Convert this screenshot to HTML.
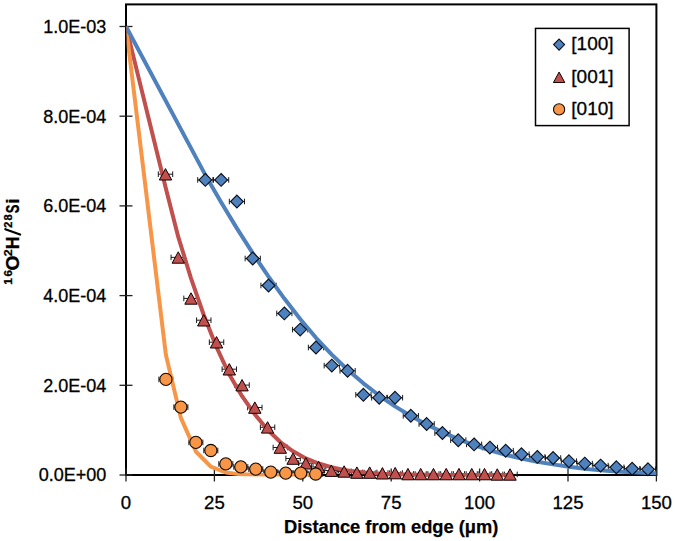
<!DOCTYPE html><html><head><meta charset="utf-8"><style>html,body{margin:0;padding:0;background:#fff;}svg{display:block}</style></head><body>
<svg width="675" height="541" viewBox="0 0 675 541">
<rect width="675" height="541" fill="#fff"/>
<rect x="126.0" y="4.4" width="530.4" height="470.6" fill="none" stroke="#000" stroke-width="2"/>
<line x1="119.5" y1="475.0" x2="132.5" y2="475.0" stroke="#222" stroke-width="1.3"/>
<line x1="119.5" y1="385.3" x2="132.5" y2="385.3" stroke="#222" stroke-width="1.3"/>
<line x1="119.5" y1="295.6" x2="132.5" y2="295.6" stroke="#222" stroke-width="1.3"/>
<line x1="119.5" y1="205.9" x2="132.5" y2="205.9" stroke="#222" stroke-width="1.3"/>
<line x1="119.5" y1="116.2" x2="132.5" y2="116.2" stroke="#222" stroke-width="1.3"/>
<line x1="119.5" y1="26.5" x2="132.5" y2="26.5" stroke="#222" stroke-width="1.3"/>
<line x1="126.0" y1="468.5" x2="126.0" y2="481.5" stroke="#222" stroke-width="1.3"/>
<line x1="214.4" y1="468.5" x2="214.4" y2="481.5" stroke="#222" stroke-width="1.3"/>
<line x1="302.8" y1="468.5" x2="302.8" y2="481.5" stroke="#222" stroke-width="1.3"/>
<line x1="391.2" y1="468.5" x2="391.2" y2="481.5" stroke="#222" stroke-width="1.3"/>
<line x1="479.6" y1="468.5" x2="479.6" y2="481.5" stroke="#222" stroke-width="1.3"/>
<line x1="568.0" y1="468.5" x2="568.0" y2="481.5" stroke="#222" stroke-width="1.3"/>
<line x1="656.4" y1="468.5" x2="656.4" y2="481.5" stroke="#222" stroke-width="1.3"/>
<text x="106.3" y="481.3" font-family='"Liberation Sans", sans-serif' font-size="18" text-anchor="end" fill="#000" stroke="#000" stroke-width="0.3">0.0E+00</text>
<text x="106.3" y="391.6" font-family='"Liberation Sans", sans-serif' font-size="18" text-anchor="end" fill="#000" stroke="#000" stroke-width="0.3">2.0E-04</text>
<text x="106.3" y="301.9" font-family='"Liberation Sans", sans-serif' font-size="18" text-anchor="end" fill="#000" stroke="#000" stroke-width="0.3">4.0E-04</text>
<text x="106.3" y="212.2" font-family='"Liberation Sans", sans-serif' font-size="18" text-anchor="end" fill="#000" stroke="#000" stroke-width="0.3">6.0E-04</text>
<text x="106.3" y="122.5" font-family='"Liberation Sans", sans-serif' font-size="18" text-anchor="end" fill="#000" stroke="#000" stroke-width="0.3">8.0E-04</text>
<text x="106.3" y="32.8" font-family='"Liberation Sans", sans-serif' font-size="18" text-anchor="end" fill="#000" stroke="#000" stroke-width="0.3">1.0E-03</text>
<text x="126.0" y="508.8" font-family='"Liberation Sans", sans-serif' font-size="18.6" text-anchor="middle" fill="#000" stroke="#000" stroke-width="0.3">0</text>
<text x="214.4" y="508.8" font-family='"Liberation Sans", sans-serif' font-size="18.6" text-anchor="middle" fill="#000" stroke="#000" stroke-width="0.3">25</text>
<text x="302.8" y="508.8" font-family='"Liberation Sans", sans-serif' font-size="18.6" text-anchor="middle" fill="#000" stroke="#000" stroke-width="0.3">50</text>
<text x="391.2" y="508.8" font-family='"Liberation Sans", sans-serif' font-size="18.6" text-anchor="middle" fill="#000" stroke="#000" stroke-width="0.3">75</text>
<text x="479.6" y="508.8" font-family='"Liberation Sans", sans-serif' font-size="18.6" text-anchor="middle" fill="#000" stroke="#000" stroke-width="0.3">100</text>
<text x="568.0" y="508.8" font-family='"Liberation Sans", sans-serif' font-size="18.6" text-anchor="middle" fill="#000" stroke="#000" stroke-width="0.3">125</text>
<text x="656.4" y="508.8" font-family='"Liberation Sans", sans-serif' font-size="18.6" text-anchor="middle" fill="#000" stroke="#000" stroke-width="0.3">150</text>
<text x="391.2" y="533.4" font-family='"Liberation Sans", sans-serif' font-size="18.3" font-weight="bold" text-anchor="middle" fill="#000" stroke="#000" stroke-width="0.25">Distance from edge (&#956;m)</text>
<text transform="translate(19.00,284.30) rotate(-90) translate(-0.44,-7.00) scale(1.019,1.000)" font-family='"Liberation Sans", sans-serif' font-size="11.6" font-weight="bold" fill="#000" stroke="#000" stroke-width="0.3">1</text>
<text transform="translate(19.00,284.30) rotate(-90) translate(7.68,-7.00) scale(0.999,1.000)" font-family='"Liberation Sans", sans-serif' font-size="11.6" font-weight="bold" fill="#000" stroke="#000" stroke-width="0.3">6</text>
<text transform="translate(19.00,284.30) rotate(-90) translate(13.81,0.00) scale(1.096,1.000)" font-family='"Liberation Sans", sans-serif' font-size="17.6" font-weight="bold" fill="#000" stroke="#000" stroke-width="0.3">O</text>
<text transform="translate(19.00,284.30) rotate(-90) translate(28.07,-7.00) scale(1.074,1.000)" font-family='"Liberation Sans", sans-serif' font-size="11.6" font-weight="bold" fill="#000" stroke="#000" stroke-width="0.3">2</text>
<text transform="translate(19.00,284.30) rotate(-90) translate(35.12,0.00) scale(1.005,1.000)" font-family='"Liberation Sans", sans-serif' font-size="17.6" font-weight="bold" fill="#000" stroke="#000" stroke-width="0.3">H</text>
<line x1="5.33" y1="229.22" x2="20.07" y2="234.59" stroke="#000" stroke-width="2.2" stroke-linecap="round"/>
<text transform="translate(19.00,284.30) rotate(-90) translate(56.30,-7.00) scale(0.985,1.000)" font-family='"Liberation Sans", sans-serif' font-size="11.6" font-weight="bold" fill="#000" stroke="#000" stroke-width="0.3">2</text>
<text transform="translate(19.00,284.30) rotate(-90) translate(63.75,-7.00) scale(0.960,1.000)" font-family='"Liberation Sans", sans-serif' font-size="11.6" font-weight="bold" fill="#000" stroke="#000" stroke-width="0.3">8</text>
<text transform="translate(19.00,284.30) rotate(-90) translate(71.12,0.00) scale(0.740,1.000)" font-family='"Liberation Sans", sans-serif' font-size="17.6" font-weight="bold" fill="#000" stroke="#000" stroke-width="0.3">S</text>
<text transform="translate(19.00,284.30) rotate(-90) translate(80.86,0.00) scale(1.000,1.000)" font-family='"Liberation Sans", sans-serif' font-size="17.6" font-weight="bold" fill="#000" stroke="#000" stroke-width="0.3">i</text>
<path d="M197.70,179.90 H212.90 M197.70,177.10 V182.70 M212.90,177.10 V182.70" stroke="#1a1a1a" stroke-width="1" fill="none"/>
<path d="M213.51,179.90 H228.71 M213.51,177.10 V182.70 M228.71,177.10 V182.70" stroke="#1a1a1a" stroke-width="1" fill="none"/>
<path d="M229.32,201.50 H244.52 M229.32,198.70 V204.30 M244.52,198.70 V204.30" stroke="#1a1a1a" stroke-width="1" fill="none"/>
<path d="M245.13,258.50 H260.33 M245.13,255.70 V261.30 M260.33,255.70 V261.30" stroke="#1a1a1a" stroke-width="1" fill="none"/>
<path d="M260.94,285.50 H276.14 M260.94,282.70 V288.30 M276.14,282.70 V288.30" stroke="#1a1a1a" stroke-width="1" fill="none"/>
<path d="M276.75,313.40 H291.95 M276.75,310.60 V316.20 M291.95,310.60 V316.20" stroke="#1a1a1a" stroke-width="1" fill="none"/>
<path d="M292.56,329.60 H307.76 M292.56,326.80 V332.40 M307.76,326.80 V332.40" stroke="#1a1a1a" stroke-width="1" fill="none"/>
<path d="M308.37,347.50 H323.57 M308.37,344.70 V350.30 M323.57,344.70 V350.30" stroke="#1a1a1a" stroke-width="1" fill="none"/>
<path d="M324.18,365.60 H339.38 M324.18,362.80 V368.40 M339.38,362.80 V368.40" stroke="#1a1a1a" stroke-width="1" fill="none"/>
<path d="M339.99,370.80 H355.19 M339.99,368.00 V373.60 M355.19,368.00 V373.60" stroke="#1a1a1a" stroke-width="1" fill="none"/>
<path d="M355.80,394.80 H371.00 M355.80,392.00 V397.60 M371.00,392.00 V397.60" stroke="#1a1a1a" stroke-width="1" fill="none"/>
<path d="M371.61,397.70 H386.81 M371.61,394.90 V400.50 M386.81,394.90 V400.50" stroke="#1a1a1a" stroke-width="1" fill="none"/>
<path d="M387.42,397.70 H402.62 M387.42,394.90 V400.50 M402.62,394.90 V400.50" stroke="#1a1a1a" stroke-width="1" fill="none"/>
<path d="M403.23,415.80 H418.43 M403.23,413.00 V418.60 M418.43,413.00 V418.60" stroke="#1a1a1a" stroke-width="1" fill="none"/>
<path d="M419.04,424.00 H434.24 M419.04,421.20 V426.80 M434.24,421.20 V426.80" stroke="#1a1a1a" stroke-width="1" fill="none"/>
<path d="M434.85,433.00 H450.05 M434.85,430.20 V435.80 M450.05,430.20 V435.80" stroke="#1a1a1a" stroke-width="1" fill="none"/>
<path d="M450.66,440.20 H465.86 M450.66,437.40 V443.00 M465.86,437.40 V443.00" stroke="#1a1a1a" stroke-width="1" fill="none"/>
<path d="M466.47,444.40 H481.67 M466.47,441.60 V447.20 M481.67,441.60 V447.20" stroke="#1a1a1a" stroke-width="1" fill="none"/>
<path d="M482.28,447.60 H497.48 M482.28,444.80 V450.40 M497.48,444.80 V450.40" stroke="#1a1a1a" stroke-width="1" fill="none"/>
<path d="M498.09,450.70 H513.29 M498.09,447.90 V453.50 M513.29,447.90 V453.50" stroke="#1a1a1a" stroke-width="1" fill="none"/>
<path d="M513.90,454.20 H529.10 M513.90,451.40 V457.00 M529.10,451.40 V457.00" stroke="#1a1a1a" stroke-width="1" fill="none"/>
<path d="M529.71,456.90 H544.91 M529.71,454.10 V459.70 M544.91,454.10 V459.70" stroke="#1a1a1a" stroke-width="1" fill="none"/>
<path d="M545.52,458.00 H560.72 M545.52,455.20 V460.80 M560.72,455.20 V460.80" stroke="#1a1a1a" stroke-width="1" fill="none"/>
<path d="M561.33,461.20 H576.53 M561.33,458.40 V464.00 M576.53,458.40 V464.00" stroke="#1a1a1a" stroke-width="1" fill="none"/>
<path d="M577.14,463.60 H592.34 M577.14,460.80 V466.40 M592.34,460.80 V466.40" stroke="#1a1a1a" stroke-width="1" fill="none"/>
<path d="M592.95,465.60 H608.15 M592.95,462.80 V468.40 M608.15,462.80 V468.40" stroke="#1a1a1a" stroke-width="1" fill="none"/>
<path d="M608.76,467.30 H623.96 M608.76,464.50 V470.10 M623.96,464.50 V470.10" stroke="#1a1a1a" stroke-width="1" fill="none"/>
<path d="M624.57,468.80 H639.77 M624.57,466.00 V471.60 M639.77,466.00 V471.60" stroke="#1a1a1a" stroke-width="1" fill="none"/>
<path d="M640.38,469.30 H655.58 M640.38,466.50 V472.10 M655.58,466.50 V472.10" stroke="#1a1a1a" stroke-width="1" fill="none"/>
<path d="M158.30,174.20 H172.70 M158.30,171.40 V177.00 M172.70,171.40 V177.00" stroke="#1a1a1a" stroke-width="1" fill="none"/>
<path d="M171.06,257.40 H185.46 M171.06,254.60 V260.20 M185.46,254.60 V260.20" stroke="#1a1a1a" stroke-width="1" fill="none"/>
<path d="M183.82,298.40 H198.22 M183.82,295.60 V301.20 M198.22,295.60 V301.20" stroke="#1a1a1a" stroke-width="1" fill="none"/>
<path d="M196.58,320.20 H210.98 M196.58,317.40 V323.00 M210.98,317.40 V323.00" stroke="#1a1a1a" stroke-width="1" fill="none"/>
<path d="M209.34,342.20 H223.74 M209.34,339.40 V345.00 M223.74,339.40 V345.00" stroke="#1a1a1a" stroke-width="1" fill="none"/>
<path d="M222.10,369.20 H236.50 M222.10,366.40 V372.00 M236.50,366.40 V372.00" stroke="#1a1a1a" stroke-width="1" fill="none"/>
<path d="M234.86,385.10 H249.26 M234.86,382.30 V387.90 M249.26,382.30 V387.90" stroke="#1a1a1a" stroke-width="1" fill="none"/>
<path d="M247.62,407.50 H262.02 M247.62,404.70 V410.30 M262.02,404.70 V410.30" stroke="#1a1a1a" stroke-width="1" fill="none"/>
<path d="M260.38,427.30 H274.78 M260.38,424.50 V430.10 M274.78,424.50 V430.10" stroke="#1a1a1a" stroke-width="1" fill="none"/>
<path d="M273.14,447.50 H287.54 M273.14,444.70 V450.30 M287.54,444.70 V450.30" stroke="#1a1a1a" stroke-width="1" fill="none"/>
<path d="M285.90,458.50 H300.30 M285.90,455.70 V461.30 M300.30,455.70 V461.30" stroke="#1a1a1a" stroke-width="1" fill="none"/>
<path d="M298.66,463.20 H313.06 M298.66,460.40 V466.00 M313.06,460.40 V466.00" stroke="#1a1a1a" stroke-width="1" fill="none"/>
<path d="M311.42,466.90 H325.82 M311.42,464.10 V469.70 M325.82,464.10 V469.70" stroke="#1a1a1a" stroke-width="1" fill="none"/>
<path d="M324.18,470.60 H338.58 M324.18,467.80 V473.40 M338.58,467.80 V473.40" stroke="#1a1a1a" stroke-width="1" fill="none"/>
<path d="M336.94,471.40 H351.34 M336.94,468.60 V474.20 M351.34,468.60 V474.20" stroke="#1a1a1a" stroke-width="1" fill="none"/>
<path d="M349.70,472.50 H364.10 M349.70,469.70 V475.30 M364.10,469.70 V475.30" stroke="#1a1a1a" stroke-width="1" fill="none"/>
<path d="M362.46,472.50 H376.86 M362.46,469.70 V475.30 M376.86,469.70 V475.30" stroke="#1a1a1a" stroke-width="1" fill="none"/>
<path d="M375.22,473.20 H389.62 M375.22,470.40 V476.00 M389.62,470.40 V476.00" stroke="#1a1a1a" stroke-width="1" fill="none"/>
<path d="M387.98,473.00 H402.38 M387.98,470.20 V475.80 M402.38,470.20 V475.80" stroke="#1a1a1a" stroke-width="1" fill="none"/>
<path d="M400.74,474.00 H415.14 M400.74,471.20 V476.80 M415.14,471.20 V476.80" stroke="#1a1a1a" stroke-width="1" fill="none"/>
<path d="M413.50,474.00 H427.90 M413.50,471.20 V476.80 M427.90,471.20 V476.80" stroke="#1a1a1a" stroke-width="1" fill="none"/>
<path d="M426.26,474.00 H440.66 M426.26,471.20 V476.80 M440.66,471.20 V476.80" stroke="#1a1a1a" stroke-width="1" fill="none"/>
<path d="M439.02,474.00 H453.42 M439.02,471.20 V476.80 M453.42,471.20 V476.80" stroke="#1a1a1a" stroke-width="1" fill="none"/>
<path d="M451.78,474.00 H466.18 M451.78,471.20 V476.80 M466.18,471.20 V476.80" stroke="#1a1a1a" stroke-width="1" fill="none"/>
<path d="M464.54,474.00 H478.94 M464.54,471.20 V476.80 M478.94,471.20 V476.80" stroke="#1a1a1a" stroke-width="1" fill="none"/>
<path d="M477.30,474.00 H491.70 M477.30,471.20 V476.80 M491.70,471.20 V476.80" stroke="#1a1a1a" stroke-width="1" fill="none"/>
<path d="M490.06,474.40 H504.46 M490.06,471.60 V477.20 M504.46,471.60 V477.20" stroke="#1a1a1a" stroke-width="1" fill="none"/>
<path d="M502.82,474.40 H517.22 M502.82,471.60 V477.20 M517.22,471.60 V477.20" stroke="#1a1a1a" stroke-width="1" fill="none"/>
<path d="M158.90,379.40 H172.90 M158.90,376.60 V382.20 M172.90,376.60 V382.20" stroke="#1a1a1a" stroke-width="1" fill="none"/>
<path d="M173.88,407.10 H187.88 M173.88,404.30 V409.90 M187.88,404.30 V409.90" stroke="#1a1a1a" stroke-width="1" fill="none"/>
<path d="M188.86,442.40 H202.86 M188.86,439.60 V445.20 M202.86,439.60 V445.20" stroke="#1a1a1a" stroke-width="1" fill="none"/>
<path d="M203.84,450.50 H217.84 M203.84,447.70 V453.30 M217.84,447.70 V453.30" stroke="#1a1a1a" stroke-width="1" fill="none"/>
<path d="M218.82,463.90 H232.82 M218.82,461.10 V466.70 M232.82,461.10 V466.70" stroke="#1a1a1a" stroke-width="1" fill="none"/>
<path d="M233.80,466.90 H247.80 M233.80,464.10 V469.70 M247.80,464.10 V469.70" stroke="#1a1a1a" stroke-width="1" fill="none"/>
<path d="M248.78,469.10 H262.78 M248.78,466.30 V471.90 M262.78,466.30 V471.90" stroke="#1a1a1a" stroke-width="1" fill="none"/>
<path d="M263.76,472.10 H277.76 M263.76,469.30 V474.90 M277.76,469.30 V474.90" stroke="#1a1a1a" stroke-width="1" fill="none"/>
<path d="M278.74,473.10 H292.74 M278.74,470.30 V475.90 M292.74,470.30 V475.90" stroke="#1a1a1a" stroke-width="1" fill="none"/>
<path d="M293.72,473.10 H307.72 M293.72,470.30 V475.90 M307.72,470.30 V475.90" stroke="#1a1a1a" stroke-width="1" fill="none"/>
<path d="M308.70,474.00 H322.70 M308.70,471.20 V476.80 M322.70,471.20 V476.80" stroke="#1a1a1a" stroke-width="1" fill="none"/>
<defs><clipPath id="pa"><rect x="126.6" y="4" width="530" height="472.6"/></clipPath></defs><g clip-path="url(#pa)">
<path d="M126.00,26.50 L165.50,186.98 L178.26,236.91 L191.02,278.30 L203.78,314.97 L216.54,347.18 L229.30,374.54 L242.06,396.18 L254.82,414.30 L267.58,429.82 L280.34,442.00 L293.10,451.35 L305.86,458.38 L318.62,463.54 L331.38,467.25 L344.14,469.87 L356.90,471.67 L369.66,472.88 L382.42,473.68 L395.18,474.19 L407.94,474.51 L420.70,474.72 L433.46,474.84 L446.22,474.91 L458.98,474.95 L471.74,474.97 L484.50,474.99 L497.26,474.99 L510.02,475.00" fill="none" stroke="#C0504D" stroke-width="4.0" stroke-linejoin="round" stroke-linecap="butt"/>
<path d="M126.00,26.50 L165.90,354.90 L180.88,417.84 L195.86,451.52 L210.84,466.72 L225.82,472.50 L240.80,474.36 L255.78,474.86 L270.76,474.97 L285.74,475.00 L300.72,475.00 L315.70,475.00" fill="none" stroke="#F79646" stroke-width="4.0" stroke-linejoin="round" stroke-linecap="butt"/>
<path d="M126.00,26.50 L205.30,174.93 L221.11,202.23 L236.92,228.36 L252.73,253.19 L268.54,276.63 L284.35,298.57 L300.16,318.98 L315.97,337.82 L331.78,354.62 L347.59,369.69 L363.40,383.30 L379.21,395.51 L395.02,406.40 L410.83,416.06 L426.64,424.58 L442.45,432.06 L458.26,439.05 L474.07,445.13 L489.88,450.35 L505.69,454.80 L521.50,458.55 L537.31,461.70 L553.12,464.38 L568.93,466.84 L584.74,468.82 L600.55,470.37 L616.36,471.47 L632.17,472.31 L647.98,472.96 L656.40,473.25" fill="none" stroke="#4F81BD" stroke-width="4.0" stroke-linejoin="round" stroke-linecap="butt"/>
</g>
<path d="M205.30,173.50 L211.70,179.90 L205.30,186.30 L198.90,179.90 Z" fill="#4F81BD" stroke="#0a0f1a" stroke-width="1.1"/>
<path d="M221.11,173.50 L227.51,179.90 L221.11,186.30 L214.71,179.90 Z" fill="#4F81BD" stroke="#0a0f1a" stroke-width="1.1"/>
<path d="M236.92,195.10 L243.32,201.50 L236.92,207.90 L230.52,201.50 Z" fill="#4F81BD" stroke="#0a0f1a" stroke-width="1.1"/>
<path d="M252.73,252.10 L259.13,258.50 L252.73,264.90 L246.33,258.50 Z" fill="#4F81BD" stroke="#0a0f1a" stroke-width="1.1"/>
<path d="M268.54,279.10 L274.94,285.50 L268.54,291.90 L262.14,285.50 Z" fill="#4F81BD" stroke="#0a0f1a" stroke-width="1.1"/>
<path d="M284.35,307.00 L290.75,313.40 L284.35,319.80 L277.95,313.40 Z" fill="#4F81BD" stroke="#0a0f1a" stroke-width="1.1"/>
<path d="M300.16,323.20 L306.56,329.60 L300.16,336.00 L293.76,329.60 Z" fill="#4F81BD" stroke="#0a0f1a" stroke-width="1.1"/>
<path d="M315.97,341.10 L322.37,347.50 L315.97,353.90 L309.57,347.50 Z" fill="#4F81BD" stroke="#0a0f1a" stroke-width="1.1"/>
<path d="M331.78,359.20 L338.18,365.60 L331.78,372.00 L325.38,365.60 Z" fill="#4F81BD" stroke="#0a0f1a" stroke-width="1.1"/>
<path d="M347.59,364.40 L353.99,370.80 L347.59,377.20 L341.19,370.80 Z" fill="#4F81BD" stroke="#0a0f1a" stroke-width="1.1"/>
<path d="M363.40,388.40 L369.80,394.80 L363.40,401.20 L357.00,394.80 Z" fill="#4F81BD" stroke="#0a0f1a" stroke-width="1.1"/>
<path d="M379.21,391.30 L385.61,397.70 L379.21,404.10 L372.81,397.70 Z" fill="#4F81BD" stroke="#0a0f1a" stroke-width="1.1"/>
<path d="M395.02,391.30 L401.42,397.70 L395.02,404.10 L388.62,397.70 Z" fill="#4F81BD" stroke="#0a0f1a" stroke-width="1.1"/>
<path d="M410.83,409.40 L417.23,415.80 L410.83,422.20 L404.43,415.80 Z" fill="#4F81BD" stroke="#0a0f1a" stroke-width="1.1"/>
<path d="M426.64,417.60 L433.04,424.00 L426.64,430.40 L420.24,424.00 Z" fill="#4F81BD" stroke="#0a0f1a" stroke-width="1.1"/>
<path d="M442.45,426.60 L448.85,433.00 L442.45,439.40 L436.05,433.00 Z" fill="#4F81BD" stroke="#0a0f1a" stroke-width="1.1"/>
<path d="M458.26,433.80 L464.66,440.20 L458.26,446.60 L451.86,440.20 Z" fill="#4F81BD" stroke="#0a0f1a" stroke-width="1.1"/>
<path d="M474.07,438.00 L480.47,444.40 L474.07,450.80 L467.67,444.40 Z" fill="#4F81BD" stroke="#0a0f1a" stroke-width="1.1"/>
<path d="M489.88,441.20 L496.28,447.60 L489.88,454.00 L483.48,447.60 Z" fill="#4F81BD" stroke="#0a0f1a" stroke-width="1.1"/>
<path d="M505.69,444.30 L512.09,450.70 L505.69,457.10 L499.29,450.70 Z" fill="#4F81BD" stroke="#0a0f1a" stroke-width="1.1"/>
<path d="M521.50,447.80 L527.90,454.20 L521.50,460.60 L515.10,454.20 Z" fill="#4F81BD" stroke="#0a0f1a" stroke-width="1.1"/>
<path d="M537.31,450.50 L543.71,456.90 L537.31,463.30 L530.91,456.90 Z" fill="#4F81BD" stroke="#0a0f1a" stroke-width="1.1"/>
<path d="M553.12,451.60 L559.52,458.00 L553.12,464.40 L546.72,458.00 Z" fill="#4F81BD" stroke="#0a0f1a" stroke-width="1.1"/>
<path d="M568.93,454.80 L575.33,461.20 L568.93,467.60 L562.53,461.20 Z" fill="#4F81BD" stroke="#0a0f1a" stroke-width="1.1"/>
<path d="M584.74,457.20 L591.14,463.60 L584.74,470.00 L578.34,463.60 Z" fill="#4F81BD" stroke="#0a0f1a" stroke-width="1.1"/>
<path d="M600.55,459.20 L606.95,465.60 L600.55,472.00 L594.15,465.60 Z" fill="#4F81BD" stroke="#0a0f1a" stroke-width="1.1"/>
<path d="M616.36,460.90 L622.76,467.30 L616.36,473.70 L609.96,467.30 Z" fill="#4F81BD" stroke="#0a0f1a" stroke-width="1.1"/>
<path d="M632.17,462.40 L638.57,468.80 L632.17,475.20 L625.77,468.80 Z" fill="#4F81BD" stroke="#0a0f1a" stroke-width="1.1"/>
<path d="M647.98,462.90 L654.38,469.30 L647.98,475.70 L641.58,469.30 Z" fill="#4F81BD" stroke="#0a0f1a" stroke-width="1.1"/>
<path d="M165.50,168.60 L171.70,180.00 L159.30,180.00 Z" fill="#C0504D" stroke="#100" stroke-width="1.0" stroke-linejoin="miter"/>
<path d="M178.26,251.80 L184.46,263.20 L172.06,263.20 Z" fill="#C0504D" stroke="#100" stroke-width="1.0" stroke-linejoin="miter"/>
<path d="M191.02,292.80 L197.22,304.20 L184.82,304.20 Z" fill="#C0504D" stroke="#100" stroke-width="1.0" stroke-linejoin="miter"/>
<path d="M203.78,314.60 L209.98,326.00 L197.58,326.00 Z" fill="#C0504D" stroke="#100" stroke-width="1.0" stroke-linejoin="miter"/>
<path d="M216.54,336.60 L222.74,348.00 L210.34,348.00 Z" fill="#C0504D" stroke="#100" stroke-width="1.0" stroke-linejoin="miter"/>
<path d="M229.30,363.60 L235.50,375.00 L223.10,375.00 Z" fill="#C0504D" stroke="#100" stroke-width="1.0" stroke-linejoin="miter"/>
<path d="M242.06,379.50 L248.26,390.90 L235.86,390.90 Z" fill="#C0504D" stroke="#100" stroke-width="1.0" stroke-linejoin="miter"/>
<path d="M254.82,401.90 L261.02,413.30 L248.62,413.30 Z" fill="#C0504D" stroke="#100" stroke-width="1.0" stroke-linejoin="miter"/>
<path d="M267.58,421.70 L273.78,433.10 L261.38,433.10 Z" fill="#C0504D" stroke="#100" stroke-width="1.0" stroke-linejoin="miter"/>
<path d="M280.34,441.90 L286.54,453.30 L274.14,453.30 Z" fill="#C0504D" stroke="#100" stroke-width="1.0" stroke-linejoin="miter"/>
<path d="M293.10,452.90 L299.30,464.30 L286.90,464.30 Z" fill="#C0504D" stroke="#100" stroke-width="1.0" stroke-linejoin="miter"/>
<path d="M305.86,457.60 L312.06,469.00 L299.66,469.00 Z" fill="#C0504D" stroke="#100" stroke-width="1.0" stroke-linejoin="miter"/>
<path d="M318.62,461.30 L324.82,472.70 L312.42,472.70 Z" fill="#C0504D" stroke="#100" stroke-width="1.0" stroke-linejoin="miter"/>
<path d="M331.38,465.00 L337.58,476.40 L325.18,476.40 Z" fill="#C0504D" stroke="#100" stroke-width="1.0" stroke-linejoin="miter"/>
<path d="M344.14,465.80 L350.34,477.20 L337.94,477.20 Z" fill="#C0504D" stroke="#100" stroke-width="1.0" stroke-linejoin="miter"/>
<path d="M356.90,466.90 L363.10,478.30 L350.70,478.30 Z" fill="#C0504D" stroke="#100" stroke-width="1.0" stroke-linejoin="miter"/>
<path d="M369.66,466.90 L375.86,478.30 L363.46,478.30 Z" fill="#C0504D" stroke="#100" stroke-width="1.0" stroke-linejoin="miter"/>
<path d="M382.42,467.60 L388.62,479.00 L376.22,479.00 Z" fill="#C0504D" stroke="#100" stroke-width="1.0" stroke-linejoin="miter"/>
<path d="M395.18,467.40 L401.38,478.80 L388.98,478.80 Z" fill="#C0504D" stroke="#100" stroke-width="1.0" stroke-linejoin="miter"/>
<path d="M407.94,468.40 L414.14,479.80 L401.74,479.80 Z" fill="#C0504D" stroke="#100" stroke-width="1.0" stroke-linejoin="miter"/>
<path d="M420.70,468.40 L426.90,479.80 L414.50,479.80 Z" fill="#C0504D" stroke="#100" stroke-width="1.0" stroke-linejoin="miter"/>
<path d="M433.46,468.40 L439.66,479.80 L427.26,479.80 Z" fill="#C0504D" stroke="#100" stroke-width="1.0" stroke-linejoin="miter"/>
<path d="M446.22,468.40 L452.42,479.80 L440.02,479.80 Z" fill="#C0504D" stroke="#100" stroke-width="1.0" stroke-linejoin="miter"/>
<path d="M458.98,468.40 L465.18,479.80 L452.78,479.80 Z" fill="#C0504D" stroke="#100" stroke-width="1.0" stroke-linejoin="miter"/>
<path d="M471.74,468.40 L477.94,479.80 L465.54,479.80 Z" fill="#C0504D" stroke="#100" stroke-width="1.0" stroke-linejoin="miter"/>
<path d="M484.50,468.40 L490.70,479.80 L478.30,479.80 Z" fill="#C0504D" stroke="#100" stroke-width="1.0" stroke-linejoin="miter"/>
<path d="M497.26,468.80 L503.46,480.20 L491.06,480.20 Z" fill="#C0504D" stroke="#100" stroke-width="1.0" stroke-linejoin="miter"/>
<path d="M510.02,468.80 L516.22,480.20 L503.82,480.20 Z" fill="#C0504D" stroke="#100" stroke-width="1.0" stroke-linejoin="miter"/>
<circle cx="165.90" cy="379.40" r="6.10" fill="#F79646" stroke="#110800" stroke-width="1.1"/>
<circle cx="180.88" cy="407.10" r="6.10" fill="#F79646" stroke="#110800" stroke-width="1.1"/>
<circle cx="195.86" cy="442.40" r="6.10" fill="#F79646" stroke="#110800" stroke-width="1.1"/>
<circle cx="210.84" cy="450.50" r="6.10" fill="#F79646" stroke="#110800" stroke-width="1.1"/>
<circle cx="225.82" cy="463.90" r="6.10" fill="#F79646" stroke="#110800" stroke-width="1.1"/>
<circle cx="240.80" cy="466.90" r="6.10" fill="#F79646" stroke="#110800" stroke-width="1.1"/>
<circle cx="255.78" cy="469.10" r="6.10" fill="#F79646" stroke="#110800" stroke-width="1.1"/>
<circle cx="270.76" cy="472.10" r="6.10" fill="#F79646" stroke="#110800" stroke-width="1.1"/>
<circle cx="285.74" cy="473.10" r="6.10" fill="#F79646" stroke="#110800" stroke-width="1.1"/>
<circle cx="300.72" cy="473.10" r="6.10" fill="#F79646" stroke="#110800" stroke-width="1.1"/>
<circle cx="315.70" cy="474.00" r="6.10" fill="#F79646" stroke="#110800" stroke-width="1.1"/>
<rect x="535.5" y="28.4" width="93.6" height="97.2" fill="#fff" stroke="#000" stroke-width="1.5"/>
<path d="M559.10,39.10 L564.60,44.60 L559.10,50.10 L553.60,44.60 Z" fill="#4F81BD" stroke="#0a0f1a" stroke-width="1.1"/>
<path d="M559.10,72.06 L564.79,82.52 L553.41,82.52 Z" fill="#C0504D" stroke="#100" stroke-width="1.0" stroke-linejoin="miter"/>
<circle cx="559.10" cy="109.40" r="5.60" fill="#F79646" stroke="#110800" stroke-width="1.1"/>
<text x="571.3" y="49.9" font-family='"Liberation Sans", sans-serif' font-size="19" fill="#000" stroke="#000" stroke-width="0.3">[100]</text>
<text x="571.3" y="82.8" font-family='"Liberation Sans", sans-serif' font-size="19" fill="#000" stroke="#000" stroke-width="0.3">[001]</text>
<text x="571.3" y="114.8" font-family='"Liberation Sans", sans-serif' font-size="19" fill="#000" stroke="#000" stroke-width="0.3">[010]</text>
</svg></body></html>
